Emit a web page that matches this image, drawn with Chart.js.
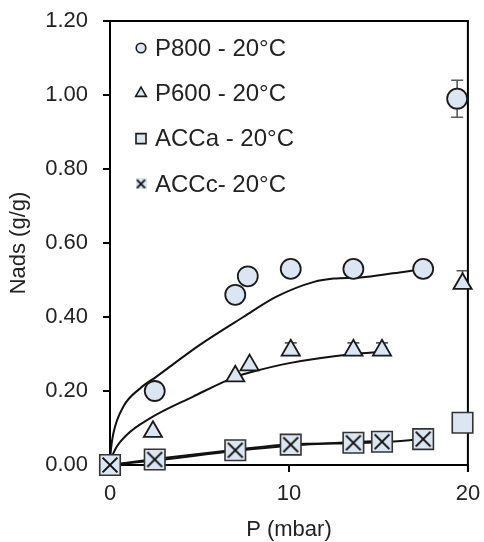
<!DOCTYPE html>
<html><head><meta charset="utf-8">
<script src="https://cdn.jsdelivr.net/npm/chart.js@4.4.1/dist/chart.umd.min.js"></script>
<style>html,body{margin:0;padding:0;background:#fff}#wrap{width:484px;height:542px;position:relative}</style>
</head><body><div id="wrap"><canvas id="c" width="484" height="542"></canvas></div>
<script>
// ---- data ----
const seriesNames = ['P800 - 20°C', 'P600 - 20°C', 'ACCa - 20°C', 'ACCc- 20°C'];
const xTicks = [0, 10, 20];
const yTicks = [0, 0.2, 0.4, 0.6, 0.8, 1.0, 1.2];

const p800X = [2.5, 7.0, 7.7, 10.1, 13.6, 17.5, 19.4];
const p800Y = [0.20, 0.46, 0.51, 0.53, 0.53, 0.53, 0.99];
const p800ErrUp = [0, 0, 0, 0, 0, 0, 0.05];
const p800ErrDown = [0, 0, 0, 0, 0, 0, 0.05];

const p600X = [2.4, 7.0, 7.8, 10.1, 13.6, 15.2, 19.7];
const p600Y = [0.09, 0.24, 0.27, 0.31, 0.31, 0.31, 0.49];
const p600ErrUp = [0, 0, 0, 0.02, 0.02, 0.02, 0.035];
const p600ErrDown = [0, 0, 0, 0, 0, 0, 0];

const accaX = [0, 2.5, 7.0, 10.1, 13.6, 15.2, 17.5, 19.7];
const accaY = [0, 0.015, 0.04, 0.055, 0.06, 0.063, 0.07, 0.114];

const acccX = [0, 2.5, 7.0, 10.1, 13.6, 15.2, 17.5];
const acccY = [0, 0.015, 0.04, 0.055, 0.06, 0.063, 0.07];

// fitted model curves
const fitP800X = [0, 0.05, 0.19, 0.75, 1.68, 2.6, 5.0, 7.45, 9.3, 11.4, 12.5, 14.0, 15.8, 17.5];
const fitP800Y = [0, 0.04, 0.086, 0.158, 0.207, 0.239, 0.324, 0.40, 0.455, 0.495, 0.504, 0.507, 0.518, 0.53];
const fitP600X = [0, 0.19, 0.93, 2.23, 4.65, 7.04, 7.8, 10.1, 13.6, 15.2];
const fitP600Y = [0, 0.032, 0.081, 0.126, 0.185, 0.239, 0.25, 0.276, 0.30, 0.306];
const fitAccaX = [0, 2.5, 7.0, 10.1, 13.6, 15.2];
const fitAccaY = [0, 0.012, 0.038, 0.052, 0.062, 0.065];
const fitAcccX = [0, 2.5, 7.0, 10.1, 13.6, 15.2, 17.5];
const fitAcccY = [0, 0.016, 0.041, 0.056, 0.059, 0.062, 0.07];

// ---- styles ----
const FILL = '#DCE6F2';
const EDGE = '#1a1a1a';
const TEXT = '#222222';
const FONT = "'Liberation Sans', Arial, Helvetica, sans-serif";

function pts(xs, ys) { return xs.map((x, i) => ({x: x, y: ys[i]})); }

function makeCross(size, lw) {
  const c = document.createElement('canvas');
  c.width = size; c.height = size;
  const g = c.getContext('2d');
  g.fillStyle = FILL; g.fillRect(0, 0, size, size);
  g.strokeStyle = '#111'; g.lineWidth = lw; g.lineCap = 'butt';
  const m = lw * 0.8;
  g.beginPath();
  g.moveTo(m, m); g.lineTo(size - m, size - m);
  g.moveTo(size - m, m); g.lineTo(m, size - m);
  g.stroke();
  return c;
}
const crossImg = makeCross(18, 2);
const crossLegendImg = makeCross(11, 1.8);

function fitLine(xs, ys) {
  return {type: 'scatter', data: pts(xs, ys), showLine: true, borderColor: '#111', borderWidth: 2,
    pointRadius: 0, fill: false, cubicInterpolationMode: 'monotone', order: 20, clip: false};
}

const errorSets = [
  {x: p800X, y: p800Y, up: p800ErrUp, down: p800ErrDown},
  {x: p600X, y: p600Y, up: p600ErrUp, down: p600ErrDown}
];

const errorBarPlugin = {
  id: 'errorBars',
  beforeDatasetsDraw(chart) {
    const {ctx, scales: {x, y}} = chart;
    ctx.save();
    ctx.strokeStyle = '#595959';
    ctx.lineWidth = 1.6;
    errorSets.forEach(s => {
      s.x.forEach((xv, i) => {
        const u = s.up[i], d = s.down[i];
        if (!u && !d) return;
        const px = x.getPixelForValue(xv);
        const pTop = y.getPixelForValue(s.y[i] + u);
        const pBot = y.getPixelForValue(s.y[i] - d);
        const pc = y.getPixelForValue(s.y[i]);
        ctx.beginPath();
        if (u) { ctx.moveTo(px, pc); ctx.lineTo(px, pTop); ctx.moveTo(px - 6, pTop); ctx.lineTo(px + 6, pTop); }
        if (d) { ctx.moveTo(px, pc); ctx.lineTo(px, pBot); ctx.moveTo(px - 6, pBot); ctx.lineTo(px + 6, pBot); }
        ctx.stroke();
      });
    });
    ctx.restore();
  }
};

const framePlugin = {
  id: 'frame',
  beforeDatasetsDraw(chart) {
    const {ctx, chartArea: a} = chart;
    ctx.save();
    ctx.strokeStyle = '#000';
    ctx.lineWidth = 2;
    ctx.beginPath();
    ctx.moveTo(a.left, a.top); ctx.lineTo(a.right, a.top); ctx.lineTo(a.right, a.bottom + 7);
    ctx.stroke();
    ctx.restore();
  }
};

const legendPlugin = {
  id: 'insideLegend',
  afterDatasetsDraw(chart) {
    const {ctx, chartArea: a} = chart;
    const mx = a.left + 31, tx = a.left + 45;
    const y0 = a.top + 27, dy = 45.3;
    ctx.save();
    ctx.font = '24px ' + FONT;
    ctx.textBaseline = 'middle';
    ctx.textAlign = 'left';
    seriesNames.forEach((name, i) => {
      const yy = y0 + i * dy;
      ctx.fillStyle = FILL; ctx.strokeStyle = EDGE; ctx.lineWidth = 1.6;
      ctx.beginPath();
      if (i === 0) { ctx.arc(mx, yy, 4.8, 0, Math.PI * 2); ctx.fill(); ctx.stroke(); }
      else if (i === 1) {
        const r = 6.2;
        ctx.moveTo(mx, yy - r);
        ctx.lineTo(mx + r * Math.sin(2 * Math.PI / 3), yy - r * Math.cos(2 * Math.PI / 3));
        ctx.lineTo(mx + r * Math.sin(4 * Math.PI / 3), yy - r * Math.cos(4 * Math.PI / 3));
        ctx.closePath(); ctx.fill(); ctx.stroke();
      } else if (i === 2) { ctx.rect(mx - 5, yy - 5, 10, 10); ctx.fill(); ctx.stroke(); }
      else { ctx.drawImage(crossLegendImg, mx - 5.5, yy - 5.5); }
      ctx.fillStyle = TEXT;
      ctx.fillText(name, tx, yy + 1);
    });
    ctx.restore();
  }
};

Chart.defaults.font.family = FONT;
Chart.defaults.font.size = 22;
Chart.defaults.color = TEXT;

new Chart(document.getElementById('c'), {
  type: 'scatter',
  data: {
    datasets: [
      {label: seriesNames[0], data: pts(p800X, p800Y), pointStyle: 'circle', pointRadius: 10,
        backgroundColor: FILL, borderColor: EDGE, borderWidth: 1.8, order: 4, clip: false},
      {label: seriesNames[1], data: pts(p600X, p600Y), pointStyle: 'triangle', pointRadius: 10.5,
        backgroundColor: FILL, borderColor: EDGE, borderWidth: 1.8, order: 3, clip: false},
      {label: seriesNames[2], data: pts(accaX, accaY), pointStyle: 'rect', pointRadius: 14.5,
        backgroundColor: FILL, borderColor: '#333', borderWidth: 1.6, order: 2, clip: false},
      {label: seriesNames[3], data: pts(acccX, acccY), pointStyle: crossImg, pointRadius: 9,
        backgroundColor: FILL, borderColor: EDGE, borderWidth: 2, order: 1, clip: false},
      fitLine(fitP800X, fitP800Y),
      fitLine(fitP600X, fitP600Y),
      fitLine(fitAccaX, fitAccaY),
      fitLine(fitAcccX, fitAcccY)
    ]
  },
  options: {
    responsive: false,
    animation: false,
    events: [],
    layout: {padding: {top: 21, right: 16, left: 0, bottom: 0}},
    plugins: {legend: {display: false}, tooltip: {enabled: false}},
    scales: {
      x: {
        type: 'linear', min: 0, max: 20,
        afterBuildTicks: s => { s.ticks = xTicks.map(v => ({value: v})); },
        afterFit: s => { s.height = 77; s.paddingLeft = 0; s.paddingRight = 0; },
        ticks: {padding: 9, color: TEXT, font: {size: 22}, callback: v => String(v)},
        grid: {drawOnChartArea: false, drawTicks: true, tickLength: 7, color: '#000', lineWidth: 2},
        border: {display: true, color: '#000', width: 2},
        title: {display: true, text: 'P (mbar)', color: TEXT, font: {size: 22, lineHeight: 1}, padding: {top: 0, bottom: 1}}
      },
      y: {
        type: 'linear', min: 0, max: 1.2,
        afterBuildTicks: s => { s.ticks = yTicks.map(v => ({value: v})); },
        afterFit: s => { s.width = 110; s.paddingTop = 0; s.paddingBottom = 0; },
        ticks: {padding: 15, color: TEXT, font: {size: 22}, callback: v => Number(v).toFixed(2)},
        grid: {drawOnChartArea: false, drawTicks: true, tickLength: 7, color: '#000', lineWidth: 2},
        border: {display: true, color: '#000', width: 2},
        title: {display: true, text: 'Nads (g/g)', color: TEXT, font: {size: 22}, padding: {top: 6, bottom: 0}}
      }
    }
  },
  plugins: [errorBarPlugin, framePlugin, legendPlugin]
});
</script>
</body></html>
